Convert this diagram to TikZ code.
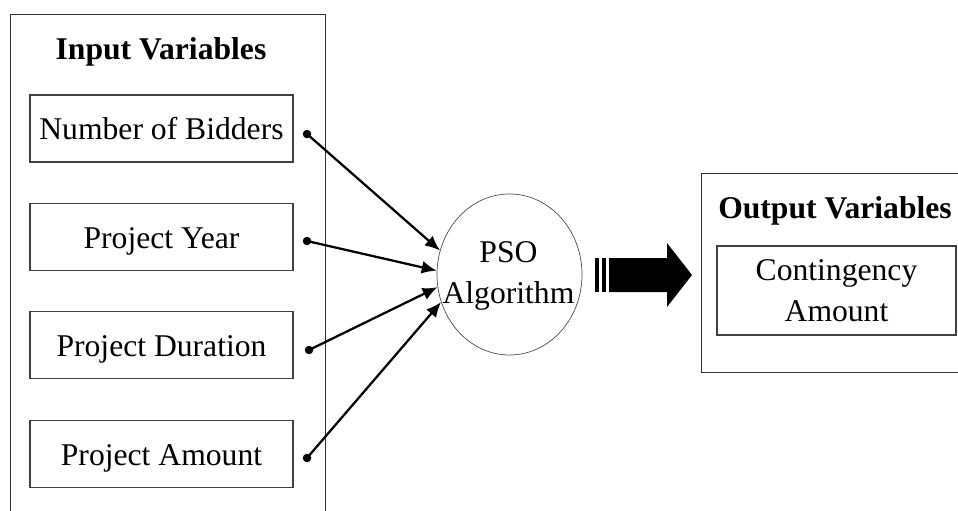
\documentclass[tikz,border=0pt]{standalone}
\usepackage{fontspec}
\setmainfont{Liberation Serif}
\usetikzlibrary{arrows.meta,shapes.geometric}

\tikzset{
  frame/.style={draw=black!80, line width=0.018cm},
  varbox/.style={draw=black!75, line width=0.022cm, minimum width=5.26cm, minimum height=1.34cm, inner sep=0pt, text height=0.5cm, text depth=0.04cm},
  dotmark/.style={circle, fill=black, inner sep=0pt, minimum size=0.17cm},
  link/.style={-{Latex[length=0.30cm,width=0.26cm]}, line width=0.045cm, shorten <=-0.08cm},
  title/.style={font=\bfseries}
}

\begin{document}
\begin{tikzpicture}
{\fontsize{18}{23.5}\selectfont
\useasboundingbox (0,0) rectangle (19.16,-10.22);

% Drawing input frame
\draw [frame] (0.20,-0.28) rectangle (6.50,-10.60);%
\node [title] (intitle) at (3.22,-1.04) {Input Variables};%

% Drawing input boxes
\node [varbox] (bidders) at (3.23,-2.57) {Number of Bidders};%
\node [varbox] (year) at (3.23,-4.74) {Project Year};%
\node [varbox] (duration) at (3.23,-6.90) {Project Duration};%
\node [varbox] (amount) at (3.23,-9.08) {Project Amount};%

% Marking the connector dots
\node [dotmark] (dbidders) at (6.14,-2.68) {};%
\node [dotmark] (dyear) at (6.14,-4.82) {};%
\node [dotmark] (dduration) at (6.18,-7.00) {};%
\node [dotmark] (damount) at (6.14,-9.16) {};%

% Drawing the PSO ellipse
\node [ellipse, draw=black!70, line width=0.014cm, minimum width=2.90cm, minimum height=3.22cm, inner sep=0pt] (pso) at (10.19,-5.49) {};%
\node [align=center, inner sep=0pt] (psotext) at (10.17,-5.52) {PSO\\Algorithm};%

% Drawing connectors into PSO
\draw [link] (dbidders) -- (pso.161);%
\draw [link] (dyear) -- (pso.177);%
\draw [link] (dduration) -- (pso.190);%
\draw [link] (damount) -- (pso.202);%

% Drawing the big striped arrow
\fill (11.90,-5.16) rectangle (11.98,-5.84);%
\fill (12.03,-5.16) rectangle (12.12,-5.84);%
\fill (12.18,-5.16) -- (13.34,-5.16) -- (13.34,-4.86) -- (13.84,-5.50) -- (13.34,-6.14) -- (13.34,-5.84) -- (12.18,-5.84) -- cycle;%

% Drawing output frame
\draw [frame] (14.02,-3.46) rectangle (19.60,-7.44);%
\node [title] (outtitle) at (16.70,-4.22) {Output Variables};%
\node [varbox, minimum width=4.78cm, minimum height=1.78cm, align=center, text height=, text depth=] (contingency) at (16.73,-5.81) {Contingency\\Amount};%
}
\end{tikzpicture}
\end{document}
